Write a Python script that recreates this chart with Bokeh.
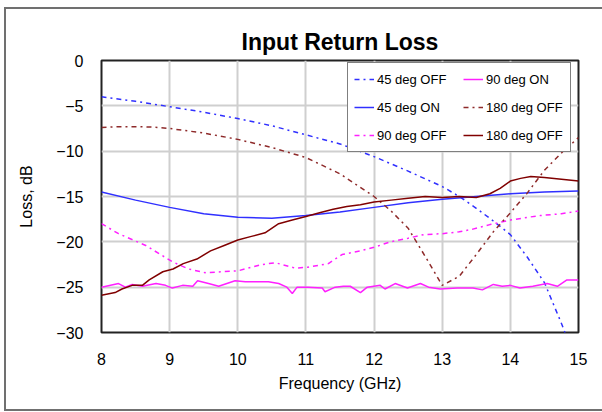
from bokeh.plotting import figure
from bokeh.models import Legend, LegendItem, Range1d, FixedTicker, Title
from bokeh.embed import file_html
from bokeh.resources import INLINE

# ---- data ----
f_45off = [8, 8.5, 9, 9.5, 10, 10.5, 11, 11.5, 12, 12.5, 13, 13.25, 13.5, 13.75, 14, 14.25, 14.5, 14.75, 14.85]
v_45off = [-4.0, -4.5, -5.1, -5.7, -6.4, -7.2, -8.2, -9.2, -10.6, -12.2, -13.9, -15.0, -16.3, -17.7, -19.2, -21.7, -24.5, -29.0, -31.0]

f_45on = [8, 8.5, 9, 9.5, 10, 10.5, 11, 11.5, 12, 12.5, 13, 13.5, 14, 14.5, 15]
v_45on = [-14.5, -15.4, -16.2, -16.9, -17.3, -17.4, -17.1, -16.7, -16.2, -15.7, -15.3, -15.0, -14.7, -14.5, -14.4]

f_90off = [8, 8.25, 8.65, 9.04, 9.28, 9.52, 9.77, 10.0, 10.36, 10.55, 10.84, 11.03, 11.33, 11.53, 11.8, 12.0,
           12.24, 12.5, 12.73, 13.0, 13.25, 13.45, 13.7, 14.0, 14.25, 14.44, 14.75, 15.0]
v_90off = [-18.0, -19.1, -20.4, -22.2, -23.0, -23.4, -23.3, -23.2, -22.5, -22.3, -22.9, -22.8, -22.4, -21.4, -21.0, -20.6,
           -20.0, -19.6, -19.2, -19.1, -18.9, -18.6, -18.1, -17.6, -17.3, -17.1, -16.9, -16.6]

f_90on = [8.0, 8.25, 8.35, 8.45, 8.6, 8.8, 8.94, 9.04, 9.19, 9.34, 9.41, 9.57, 9.72, 9.96, 10.11, 10.26, 10.45, 10.6,
          10.72, 10.8, 10.87, 11.03, 11.24, 11.28, 11.43, 11.55, 11.65, 11.8, 11.9, 12.09, 12.16, 12.31, 12.49, 12.68,
          12.8, 12.97, 13.22, 13.45, 13.59, 13.75, 13.88, 14.0, 14.14, 14.33, 14.54, 14.69, 14.83, 15.0]
v_90on = [-25.0, -24.6, -25.0, -24.7, -24.9, -24.6, -24.8, -25.1, -24.8, -24.9, -24.3, -24.6, -24.9, -24.3, -24.4, -24.4,
          -24.4, -24.6, -25.0, -25.7, -25.0, -25.0, -25.1, -25.5, -25.0, -24.9, -24.9, -25.6, -25.0, -24.8, -25.2, -24.6,
          -25.1, -24.6, -25.0, -25.2, -25.1, -25.1, -25.3, -24.7, -24.9, -24.8, -25.1, -24.9, -24.6, -24.9, -24.2, -24.2]

f_180off_dd = [8, 8.25, 8.5, 8.75, 9, 9.5, 10, 10.5, 11, 11.5, 12, 12.25, 12.5, 12.75, 13, 13.25, 13.5, 13.75,
               14, 14.25, 14.5, 14.75, 15]
v_180off_dd = [-7.4, -7.3, -7.3, -7.35, -7.5, -8.0, -8.7, -9.6, -10.7, -12.5, -15.0, -16.6, -18.5, -21.6, -24.8,
               -23.8, -21.4, -18.9, -16.8, -14.6, -12.1, -10.2, -8.5]

f_180off = [8, 8.2, 8.3, 8.45, 8.6, 8.7, 8.9, 9.05, 9.2, 9.4, 9.6, 9.8, 10.0, 10.2, 10.4, 10.6, 10.8, 11.0, 11.2,
            11.4, 11.6, 11.8, 12, 12.25, 12.5, 12.75, 13, 13.25, 13.5, 13.7, 13.85, 14, 14.15, 14.3, 14.5, 14.75, 15]
v_180off = [-25.9, -25.6, -25.2, -24.8, -24.8, -24.2, -23.3, -23.0, -22.4, -21.9, -21.0, -20.4, -19.8, -19.4, -19.0,
            -18.0, -17.6, -17.2, -16.8, -16.4, -16.1, -15.9, -15.6, -15.4, -15.2, -15.0, -15.1, -15.0, -15.1, -14.7,
            -14.1, -13.3, -13.0, -12.8, -12.9, -13.1, -13.3]

x_ticks = [8, 9, 10, 11, 12, 13, 14, 15]
y_ticks = [0, -5, -10, -15, -20, -25, -30]

FONT = "Liberation Sans"
BLUE = "#3030ff"
MAG = "#ff20ff"
DRED = "#800000"
DRED2 = "#8e2a2a"
DASHDOT = "5 4 2 4"

p = figure(width=602, height=412, output_backend="svg", toolbar_location=None,
           x_range=Range1d(8, 15), y_range=Range1d(-30, 0),
           min_border_left=101, min_border_right=24, min_border_top=60, min_border_bottom=80)

# outer chart frame (left, top, bottom) drawn behind a transparent canvas border
G = "linear-gradient(#707070,#707070)"
p.styles = {"background": (f"{G} 4px 7px / 2px 404px no-repeat, "
                           f"{G} 4px 7px / 598px 2px no-repeat, "
                           f"{G} 4px 409px / 598px 2px no-repeat, white")}
p.border_fill_color = None

p.title = Title(text="Input Return Loss", align="center", text_font=FONT,
                text_font_size="23px", text_font_style="bold", text_color="black", standoff=11)

p.outline_line_color = "#222222"
p.outline_line_width = 2
p.background_fill_color = "white"

for ax in (p.xaxis[0], p.yaxis[0]):
    ax.axis_line_color = None
    ax.major_tick_line_color = None
    ax.minor_tick_line_color = None
    ax.major_tick_out = 0
    ax.major_tick_in = 0
    ax.major_label_text_font = FONT
    ax.major_label_text_font_size = "16px"
    ax.major_label_text_color = "black"
    ax.axis_label_text_font = FONT
    ax.axis_label_text_font_size = "16px"
    ax.axis_label_text_font_style = "normal"
    ax.axis_label_text_color = "black"

p.xaxis.ticker = FixedTicker(ticks=x_ticks)
p.yaxis.ticker = FixedTicker(ticks=y_ticks)
p.xaxis.axis_label = "Frequency (GHz)"
p.yaxis.axis_label = "Loss, dB"
p.xaxis.major_label_standoff = 20
p.yaxis.major_label_standoff = 18
p.xaxis.axis_label_standoff = 7
p.yaxis.axis_label_standoff = 18

p.xgrid.ticker = FixedTicker(ticks=x_ticks)
p.ygrid.ticker = FixedTicker(ticks=y_ticks)
p.grid.grid_line_color = "#cfcfcf"
p.grid.grid_line_width = 2

r_45off = p.line(f_45off, v_45off, line_color=BLUE, line_width=1.5, line_dash=DASHDOT)
r_45on = p.line(f_45on, v_45on, line_color=BLUE, line_width=1.5)
r_90off = p.line(f_90off, v_90off, line_color=MAG, line_width=1.5, line_dash=DASHDOT)
r_90on = p.line(f_90on, v_90on, line_color=MAG, line_width=1.5)
r_180dd = p.line(f_180off_dd, v_180off_dd, line_color=DRED2, line_width=1.5, line_dash=DASHDOT)
r_180 = p.line(f_180off, v_180off, line_color=DRED, line_width=1.5)

legend = Legend(items=[
    LegendItem(label="45 deg OFF", renderers=[r_45off]),
    LegendItem(label="90 deg ON", renderers=[r_90on]),
    LegendItem(label="45 deg ON", renderers=[r_45on]),
    LegendItem(label="180 deg OFF", renderers=[r_180dd]),
    LegendItem(label="90 deg OFF", renderers=[r_90off]),
    LegendItem(label="180 deg OFF", renderers=[r_180]),
], orientation="horizontal", ncols=2, location=(246, 180), margin=0, padding=6,
    spacing=8, glyph_width=20, glyph_height=20, label_height=20, label_width=78,
    label_standoff=3, label_text_font=FONT, label_text_font_size="13px",
    label_text_color="black", border_line_color="black", border_line_width=1,
    background_fill_color="white", background_fill_alpha=1.0)
p.add_layout(legend)

open("out.html", "w").write(file_html(p, INLINE))
